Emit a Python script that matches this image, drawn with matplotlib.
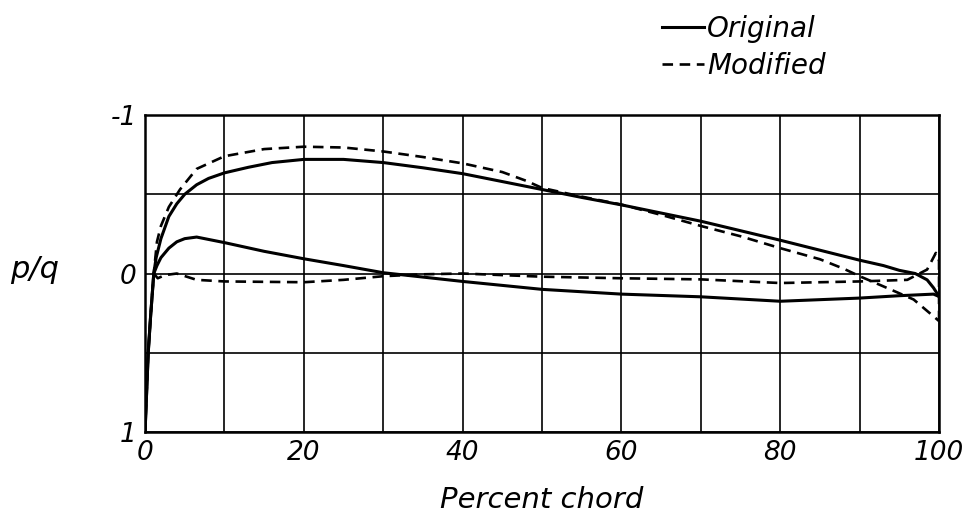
import matplotlib
matplotlib.use("Agg")
import matplotlib.pyplot as plt

# pressure distributions (x = percent chord, y = p/q)
orig_upper_x = [0, 0.4, 0.7, 1.1, 1.4, 2, 3, 4, 5, 6.5, 8, 10, 13, 16, 20, 25, 30,
                35, 40, 45, 50, 55, 60, 70, 80, 90, 93, 95, 97, 98.5, 99.3, 100]
orig_upper_y = [1.0, 0.5, 0.27, 0.0, -0.1, -0.22, -0.36, -0.44, -0.5, -0.56, -0.6,
                -0.635, -0.67, -0.7, -0.72, -0.72, -0.70, -0.667, -0.63, -0.58,
                -0.53, -0.48, -0.433, -0.33, -0.21, -0.084, -0.05, -0.02, 0.0,
                0.04, 0.09, 0.145]

orig_lower_x = [0, 0.4, 0.7, 1.1, 1.5, 2, 3, 4, 5, 6.5, 8, 10, 15, 20, 25, 30, 40,
                50, 60, 70, 80, 90, 95, 99.3, 100]
orig_lower_y = [1.0, 0.5, 0.27, 0.0, -0.05, -0.1, -0.16, -0.2, -0.22, -0.23, -0.215,
                -0.195, -0.14, -0.093, -0.05, -0.005, 0.05, 0.10, 0.13, 0.147, 0.175,
                0.155, 0.14, 0.13, 0.145]

mod_upper_x = [0, 0.4, 0.7, 1.1, 1.5, 2, 3, 4.4, 6.5, 10, 15, 20, 25, 30, 35, 40,
               45, 48, 50, 55, 60, 65, 70, 75, 80, 85, 88, 90, 93.4, 96.8, 99.3, 100]
mod_upper_y = [1.0, 0.5, 0.27, 0.0, -0.2, -0.3, -0.42, -0.53, -0.66, -0.74, -0.785,
               -0.80, -0.795, -0.77, -0.735, -0.695, -0.64, -0.585, -0.54, -0.485,
               -0.435, -0.37, -0.30, -0.235, -0.16, -0.09, -0.03, 0.017, 0.09, 0.164,
               0.27, 0.3]

mod_lower_x = [1.1, 1.6, 2.5, 4, 6.5, 10, 20, 25, 30, 35, 40, 50, 60, 70, 80, 90,
               96, 98.5, 99.6, 100, 100]
mod_lower_y = [0.0, 0.03, 0.01, 0.0, 0.04, 0.05, 0.055, 0.04, 0.017, 0.005, 0.0,
               0.02, 0.03, 0.037, 0.06, 0.05, 0.04, -0.025, -0.13, -0.08, 0.3]

x_ticks = list(range(0, 101, 10))
x_labels = ['0', '', '20', '', '40', '', '60', '', '80', '', '100']
y_ticks = [-1, -0.5, 0, 0.5, 1]
y_labels = ['-1', '', '0', '', '1']

plt.rcParams['font.family'] = ['DejaVu Sans']
plt.rcParams['font.style'] = 'italic'

fig = plt.figure(figsize=(9.65, 5.19), dpi=100)
ax = fig.add_axes([0.1503, 0.1676, 0.8228, 0.6108])

dash = (4, 2.5)
ax.plot(orig_upper_x, orig_upper_y, color='black', lw=2.2, label='Original')
ax.plot(orig_lower_x, orig_lower_y, color='black', lw=2.2)
ax.plot(mod_upper_x, mod_upper_y, color='black', lw=1.9, dashes=dash, label='Modified')
ax.plot(mod_lower_x, mod_lower_y, color='black', lw=1.9, dashes=dash)

ax.set_xlim(0, 100)
ax.set_ylim(1, -1)
ax.set_xticks(x_ticks)
ax.set_xticklabels(x_labels)
ax.set_yticks(y_ticks)
ax.set_yticklabels(y_labels)
ax.tick_params(length=0, labelsize=19, pad=6)
ax.grid(True, color='black', lw=1.2)
for s in ax.spines.values():
    s.set_linewidth(1.8)

ax.set_xlabel('Percent chord', fontsize=21, labelpad=14)
fig.text(0.036, 0.48, 'p/q', fontsize=22, ha='center', va='center')

ax.legend(loc='upper left', bbox_to_anchor=(0.672, 0.998), bbox_transform=fig.transFigure,
          frameon=False, fontsize=20, handlelength=1.5, handletextpad=0.1,
          labelspacing=0.32, borderpad=0)

fig.savefig('out.png', dpi=100)
